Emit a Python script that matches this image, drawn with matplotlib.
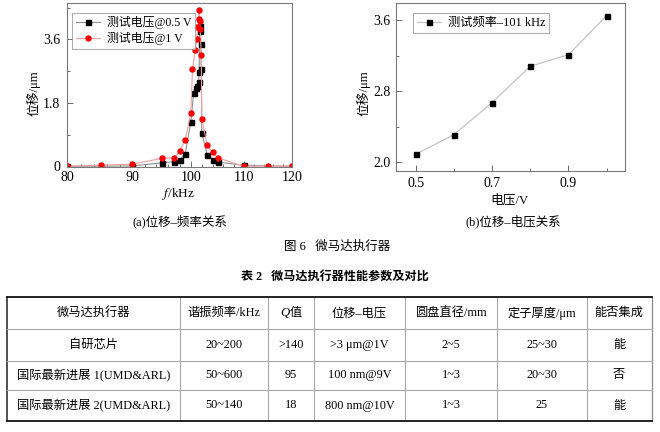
import matplotlib
matplotlib.use('Agg')
import matplotlib.pyplot as plt
from matplotlib.ticker import FixedLocator, NullFormatter

plt.rcParams['font.family'] = ['Liberation Serif', 'Noto Sans CJK SC']
plt.rcParams['mathtext.fontset'] = 'stix'
plt.rcParams['axes.unicode_minus'] = False

# ---------------- data ----------------
# (a) displacement vs frequency
freq_05 = [80, 90, 95, 97, 98, 99, 100, 100.5, 100.9, 101.1, 101.4, 101.5, 101.6,
           101.7, 101.8, 101.9, 102.0, 103, 104, 105, 110, 120]
disp_05 = [0.00, 0.01, 0.10, 0.13, 0.18, 0.36, 1.26, 2.07, 2.21, 2.28, 2.38, 2.66, 3.83,
           3.97, 3.47, 2.75, 0.94, 0.33, 0.18, 0.12, 0.03, 0.00]
freq_1 = [80, 85, 90, 95, 97, 98, 99, 100, 100.3, 100.8, 101.1, 101.2, 101.4, 101.5,
          101.6, 101.7, 101.9, 102.0, 103, 104, 105, 110, 115, 120]
disp_1 = [0.00, 0.03, 0.06, 0.23, 0.24, 0.42, 0.74, 1.51, 2.76, 3.30, 3.60, 3.94, 4.17, 4.43,
          4.13, 3.90, 3.16, 1.34, 0.59, 0.40, 0.24, 0.00, 0.01, 0.00]
label_05 = '测试电压@0.5 V'
label_1 = '测试电压@1 V'
xticks_a = [80, 90, 100, 110, 120]
yticks_a = [0, 1.8, 3.6]
yticklabels_a = ['0', '1.8', '3.6']

# (b) displacement vs voltage
volt = [0.5, 0.6, 0.7, 0.8, 0.9, 1.0]
disp_v = [2.09, 2.31, 2.67, 3.08, 3.21, 3.65]
label_v = '测试频率–101 kHz'
xticks_b = [0.5, 0.7, 0.9]
yticks_b = [2.0, 2.8, 3.6]

# table
table_header = ['微马达执行器', '谐振频率/kHz', 'Q值', '位移–电压', '圆盘直径/mm', '定子厚度/μm', '能否集成']
table_rows = [
    ['自研芯片', '20~200', '>140', '>3 μm@1V', '2~5', '25~30', '能'],
    ['国际最新进展 1(UMD&ARL)', '50~600', '95', '100 nm@9V', '1~3', '20~30', '否'],
    ['国际最新进展 2(UMD&ARL)', '50~140', '18', '800 nm@10V', '1~3', '25', '能'],
]

# ---------------- figure ----------------
W, H = 660, 432
fig = plt.figure(figsize=(6.6, 4.32), dpi=100)


def rect(l, t, r, b):
    return [l / W, 1 - b / H, (r - l) / W, (b - t) / H]


def fxy(x, y):
    return x / W, 1 - y / H


def style_axes(ax):
    for s in ax.spines.values():
        s.set_color('#7a7a7a')
        s.set_linewidth(0.8)
    ax.tick_params(which='both', direction='in', top=False, right=False,
                   color='#555555', width=0.6, labelsize=10, labelcolor='black')
    ax.tick_params(which='major', length=4)
    ax.tick_params(which='minor', length=2)


# (a)
ax1 = fig.add_axes(rect(67, 3.3, 292, 167))
ax1.plot(freq_05, disp_05, color='#8f8f8f', lw=0.8, marker='s', ms=3.6,
         mfc='black', mec='black', label=label_05)
ax1.plot(freq_1, disp_1, color='#f2a0a0', lw=0.8, marker='o', ms=3.6,
         mfc='#ff0000', mec='#ff0000', label=label_1)
ax1.set_xscale('log')
ax1.set_xlim(80, 120)
ax1.set_ylim(-0.02, 4.62)
ax1.xaxis.set_major_locator(FixedLocator(xticks_a))
ax1.xaxis.set_minor_locator(FixedLocator(list(range(80, 121, 2))))
ax1.xaxis.set_major_formatter(plt.FixedFormatter([str(v) for v in xticks_a]))
ax1.xaxis.set_minor_formatter(NullFormatter())
ax1.set_yticks(yticks_a)
ax1.set_yticklabels(yticklabels_a)
ax1.set_yticks([0.9, 2.7, 4.5], minor=True)
style_axes(ax1)
ax1.tick_params(axis='y', pad=5)
ax1.tick_params(axis='x', pad=3)
leg1 = ax1.legend(loc='upper left', bbox_to_anchor=(0.024, 0.943), borderaxespad=0,
                  fontsize=8.6, frameon=True, fancybox=False, edgecolor='#9a9a9a',
                  handlelength=2.0, handletextpad=0.6, borderpad=0.3, labelspacing=0.25)
leg1.get_frame().set_linewidth(0.8)

# (b)
ax2 = fig.add_axes(rect(395.7, 3.3, 625, 171))
ax2.plot(volt, disp_v, color='#c4c4c4', lw=0.9, marker='s', ms=3.6,
         mfc='black', mec='black', label=label_v)
ax2.set_xlim(0.448, 1.048)
ax2.set_ylim(1.902, 3.788)
ax2.set_xticks(xticks_b)
ax2.set_xticklabels(['0.5', '0.7', '0.9'])
ax2.set_xticks([0.6, 0.8, 1.0], minor=True)
ax2.set_yticks(yticks_b)
ax2.set_yticklabels(['2.0', '2.8', '3.6'])
ax2.set_yticks([2.4, 3.2], minor=True)
style_axes(ax2)
ax2.tick_params(axis='y', pad=3.5)
ax2.tick_params(axis='x', pad=4)
leg2 = ax2.legend(loc='upper left', bbox_to_anchor=(0.074, 0.944), borderaxespad=0,
                  fontsize=8.8, frameon=True, fancybox=False, edgecolor='#9a9a9a',
                  handlelength=2.0, handletextpad=0.5, borderpad=0.35)
leg2.get_frame().set_linewidth(0.8)

# axis labels
fig.text(*fxy(33, 93), '位移/μm', rotation=90, ha='center', va='center', fontsize=9.2)
fig.text(*fxy(179, 194), '$f$/kHz', ha='center', va='center', fontsize=9.5)
fig.text(*fxy(363, 93), '位移/μm', rotation=90, ha='center', va='center', fontsize=9.2)
fig.text(*fxy(510, 200), '电压/V', ha='center', va='center', fontsize=9.2)

# captions
fig.text(*fxy(179.5, 221.7), '(a)位移–频率关系', ha='center', va='center', fontsize=9)
fig.text(*fxy(513, 221.7), '(b)位移–电压关系', ha='center', va='center', fontsize=9)
fig.text(*fxy(337, 246.7), '图 6   微马达执行器', ha='center', va='center', fontsize=9)
fig.text(*fxy(335, 276.7), '表 2   微马达执行器性能参数及对比', ha='center', va='center',
         fontsize=8.7, fontweight='bold')

# table
axt = fig.add_axes([0, 0, 1, 1])
axt.set_xlim(0, W)
axt.set_ylim(H, 0)
axt.axis('off')
col_edges = [7.3, 180, 267.5, 314, 405, 496.7, 586.7, 651.7]
row_edges = [297.3, 329.3, 360.7, 390, 421]
for x in col_edges[1:-1]:
    axt.plot([x, x], [row_edges[0], row_edges[-1]], color='#a8a8a8', lw=0.8)
axt.plot([col_edges[-1]] * 2, [row_edges[0], row_edges[-1]], color='#8a8a8a', lw=0.9)
axt.plot([col_edges[0]] * 2, [row_edges[0], row_edges[-1]], color='#222222', lw=1.1)
for y in row_edges[1:-1]:
    axt.plot([col_edges[0], col_edges[-1]], [y, y], color='#a8a8a8', lw=0.8)
for y in (row_edges[0], row_edges[-1]):
    axt.plot([col_edges[0], col_edges[-1]], [y, y], color='#111111', lw=1.3)

all_rows = [table_header] + table_rows
for i, row in enumerate(all_rows):
    yc = (row_edges[i] + row_edges[i + 1]) / 2
    for j, txt in enumerate(row):
        xc = (col_edges[j] + col_edges[j + 1]) / 2
        if i == 0 and txt.startswith('Q'):
            axt.text(xc - 1.5, yc, txt[0], ha='right', va='center', fontsize=9.2,
                     fontstyle='italic')
            axt.text(xc - 1.5, yc, txt[1:], ha='left', va='center', fontsize=8.8)
        else:
            axt.text(xc, yc, txt, ha='center', va='center', fontsize=8.8)

fig.savefig('out.png', dpi=100)
